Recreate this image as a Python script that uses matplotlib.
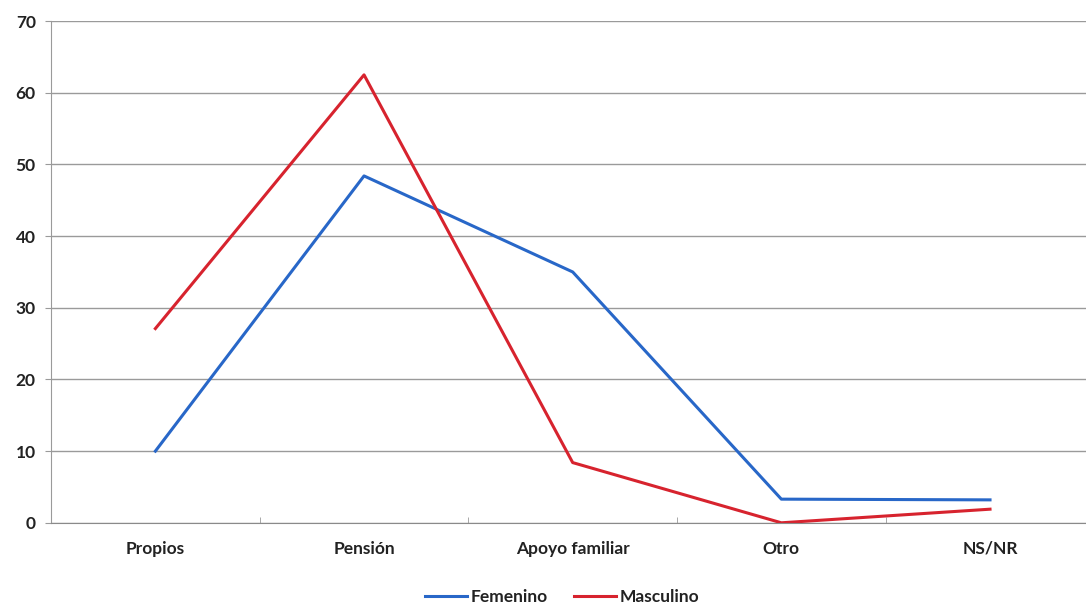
import matplotlib.pyplot as plt
import numpy as np

categorias = ['Propios', 'Pensión', 'Apoyo familiar', 'Otro', 'NS/NR']
femenino = [10.0, 48.4, 35.0, 3.3, 3.2]
masculino = [27.1, 62.5, 8.4, 0.0, 1.9]

plt.rcParams['font.family'] = ['Lato', 'DejaVu Sans']

fig = plt.figure(figsize=(10.86, 6.03), dpi=100)
ax = fig.add_axes([0.047, 0.133, 0.953, 0.832])

x = np.arange(len(categorias))
ax.plot(x, femenino, color='#2867c8', lw=2.2, label='Femenino')
ax.plot(x, masculino, color='#d7232e', lw=2.2, label='Masculino')

ax.set_xlim(-0.5, 4.46)
ax.set_ylim(0, 70)
ax.set_yticks(range(0, 71, 10))
ax.grid(axis='y', color='#9a9a9a', lw=1)
ax.set_axisbelow(True)

ax.set_xticks(x)
ax.set_xticklabels(categorias, fontsize=12.5, fontweight='bold', color='#222222')
ax.set_xticks(x[:-1] + 0.5, minor=True)
ax.tick_params(axis='x', which='major', length=0, pad=13)
ax.tick_params(axis='x', which='minor', length=4, color='#9a9a9a', direction='in')
ax.tick_params(axis='y', length=4, color='#9a9a9a', pad=7,
               labelsize=12.5, labelcolor='#222222')
for lbl in ax.get_yticklabels():
    lbl.set_fontweight('bold')

for side in ['top', 'right']:
    ax.spines[side].set_visible(False)
ax.spines['left'].set_color('#9a9a9a')
ax.spines['bottom'].set_color('#8a8a8a')

leg = ax.legend(loc='upper center', bbox_to_anchor=(0.494, -0.1), ncol=2,
                frameon=False, handlelength=2.4, handletextpad=0.25,
                columnspacing=1.5, prop={'size': 12.5, 'weight': 'bold'})
for t in leg.get_texts():
    t.set_color('#222222')

fig.savefig('out.png', dpi=100)
